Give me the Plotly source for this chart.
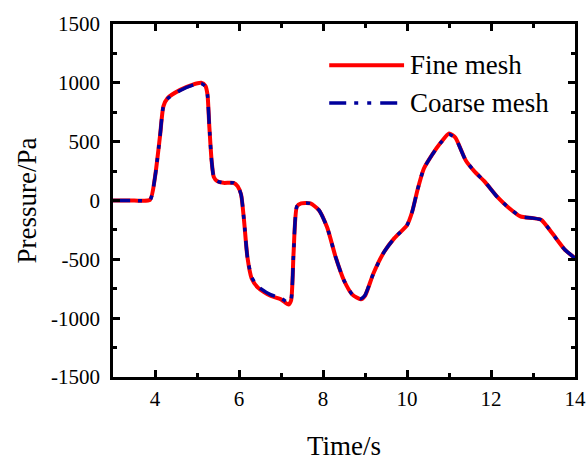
import plotly.graph_objects as go

# ---- data ----
time_s = [3.0, 3.5, 3.88, 4.0, 4.12, 4.2, 4.3, 4.6, 4.9, 5.1, 5.2, 5.25, 5.29, 5.35, 5.4, 5.48,
          5.63, 5.87, 5.97, 6.05, 6.12, 6.2, 6.3, 6.45, 6.75, 7.0, 7.18, 7.24, 7.3, 7.38, 7.48,
          7.7, 7.9, 8.1, 8.3, 8.5, 8.7, 8.9, 9.0, 9.2, 9.45, 9.7, 10.0, 10.12, 10.25, 10.4, 10.6,
          10.8, 11.0, 11.15, 11.4, 11.6, 11.85, 12.15, 12.4, 12.7, 13.0, 13.2, 13.45, 13.75, 14.0]
fine_mesh = [0, 0, 5, 200, 550, 800, 870, 940, 985, 1000, 975, 900, 650, 330, 200, 165,
             150, 150, 120, 50, -170, -480, -660, -740, -810, -840, -885, -850, -440, -50, -25,
             -25, -80, -230, -480, -680, -800, -840, -810, -620, -440, -320, -210, -100, 90, 270, 390,
             490, 570, 535, 340, 250, 160, 30, -55, -135, -150, -165, -275, -415, -490]
coarse_mesh = [0, 0, 5, 200, 550, 800, 865, 935, 980, 995, 970, 895, 650, 330, 200, 165,
               150, 150, 120, 50, -170, -480, -650, -730, -800, -830, -870, -840, -440, -50, -25,
               -25, -80, -230, -480, -680, -800, -835, -805, -620, -440, -320, -210, -100, 90, 270, 390,
               490, 560, 530, 340, 250, 160, 30, -55, -135, -150, -165, -275, -415, -490]
series_names = ["Fine mesh", "Coarse mesh"]
x_ticks = [4, 6, 8, 10, 12, 14]
y_ticks = [1500, 1000, 500, 0, -500, -1000, -1500]
y_tick_labels = ["1500", "1000", "500", "0", "-500", "-1000", "-1500"]

FONT = "Liberation Serif"
RED = "#ff0000"
BLUE = "#00009c"
BLUE_DASH = "17px,8px,4px,9px,4px,9px"

fig = go.Figure()
fig.add_trace(go.Scatter(x=time_s, y=fine_mesh, mode="lines", name=series_names[0],
                         line=dict(color=RED, width=4, shape="spline", smoothing=0.6),
                         showlegend=False))
fig.add_trace(go.Scatter(x=time_s, y=coarse_mesh, mode="lines", name=series_names[1],
                         line=dict(color=BLUE, width=3.5, shape="spline", smoothing=0.6,
                                   dash=BLUE_DASH),
                         showlegend=False))

# custom legend (long key lines as in the reference)
legend_rows = [(0.883, RED, "solid", 4, series_names[0]),
               (0.776, BLUE, BLUE_DASH, 3.5, series_names[1])]
for yy, col, dsh, w, name in legend_rows:
    fig.add_shape(type="line", xref="paper", yref="paper", x0=0.468, x1=0.630, y0=yy, y1=yy,
                  line=dict(color=col, width=w, dash=dsh))
    fig.add_annotation(xref="paper", yref="paper", x=0.638, y=yy, text=name, showarrow=False,
                       xanchor="left", yanchor="middle",
                       font=dict(family=FONT, size=27, color="black"))

axis_common = dict(showline=True, linecolor="black", linewidth=2.5, mirror="ticks",
                   ticks="inside", ticklen=7, tickwidth=2.5, tickcolor="black",
                   showgrid=False, zeroline=False, automargin=False,
                   tickfont=dict(family=FONT, size=21, color="black"))

fig.update_xaxes(range=[3, 14], tickvals=x_ticks,
                 minor=dict(dtick=1, tick0=3, ticks="inside", ticklen=4, tickwidth=2.5,
                            tickcolor="black"),
                 ticklabelstandoff=1,
                 title=dict(text="Time/s", font=dict(family=FONT, size=27, color="black"),
                            standoff=33),
                 **axis_common)
fig.update_yaxes(range=[-1500, 1500], tickvals=y_ticks, ticktext=y_tick_labels,
                 minor=dict(dtick=250, tick0=0, ticks="inside", ticklen=4, tickwidth=2.5,
                            tickcolor="black"),
                 ticklabelstandoff=6,
                 title=dict(text="Pressure/Pa", font=dict(family=FONT, size=27, color="black"),
                            standoff=7),
                 **axis_common)

fig.update_layout(width=587, height=461, margin=dict(l=113, r=12, t=24, b=84),
                  paper_bgcolor="white", plot_bgcolor="white", showlegend=False)

fig.write_html("out.html")
